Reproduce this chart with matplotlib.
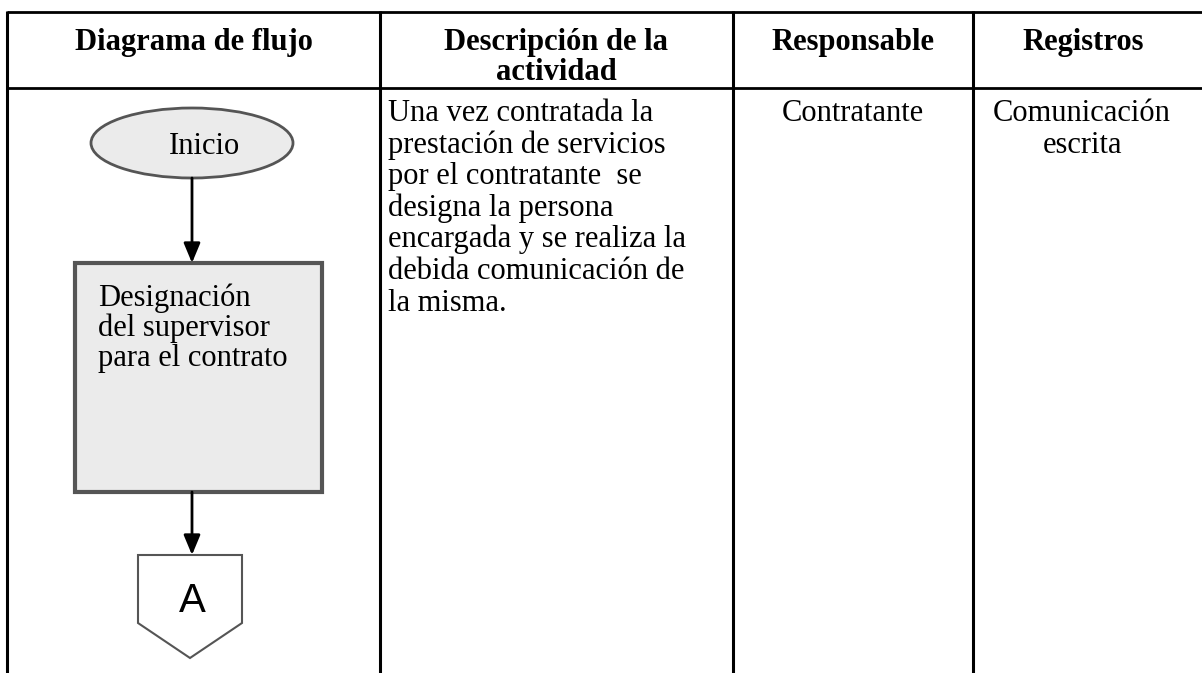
import matplotlib.pyplot as plt
from matplotlib.patches import Ellipse, Rectangle, Polygon

# table content
headers = [["Diagrama de flujo"], ["Descripción de la", "actividad"],
           ["Responsable"], ["Registros"]]
descripcion = ["Una vez contratada la", "prestación de servicios",
               "por el contratante  se", "designa la persona",
               "encargada y se realiza la", "debida comunicación de",
               "la misma."]
responsable = ["Contratante"]
registros = ["Comunicación", "escrita"]
inicio_label = "Inicio"
proceso_label = ["Designación", "del supervisor", "para el contrato"]
conector_label = "A"

# layout in pixel units
W, H = 1202, 673
col_x = [7, 380, 733, 973, 1193]
top_y, head_y = 12, 88
serif = "Liberation Serif"
fs = 22
line_h = 31.6
gray_fill = "#ebebeb"
edge = "#555555"

fig = plt.figure(figsize=(W / 100, H / 100), dpi=100)
ax = fig.add_axes([0, 0, 1, 1])
ax.set_xlim(0, W)
ax.set_ylim(H, 0)
ax.axis("off")

# grid lines
ax.plot([col_x[0], W], [top_y, top_y], color="black", lw=2, solid_capstyle="butt")
ax.plot([col_x[0], W], [head_y, head_y], color="black", lw=2, solid_capstyle="butt")
for x in col_x[:-1]:
    ax.plot([x, x], [top_y - 1, H], color="black", lw=2.2, solid_capstyle="butt")

# headers
for i, lines in enumerate(headers):
    cx = (col_x[i] + col_x[i + 1]) / 2
    for j, t in enumerate(lines):
        ax.text(cx, 50 + j * 30, t, ha="center", va="baseline",
                fontsize=fs, fontweight="bold", family=serif)

# description column
for j, t in enumerate(descripcion):
    ax.text(388, 121 + j * line_h, t, ha="left", va="baseline",
            fontsize=fs, family=serif)

cx3 = (col_x[2] + col_x[3]) / 2
for j, t in enumerate(responsable):
    ax.text(cx3, 121 + j * line_h, t, ha="center", va="baseline",
            fontsize=fs, family=serif)
cx4 = 1082
for j, t in enumerate(registros):
    ax.text(cx4, 121 + j * line_h, t, ha="center", va="baseline",
            fontsize=fs, family=serif)

# flowchart
fx = 192
ax.add_patch(Ellipse((fx, 143), 202, 70, facecolor=gray_fill,
                     edgecolor=edge, lw=2))
ax.text(fx + 13, 154, inicio_label, ha="center", va="baseline",
        fontsize=fs, family=serif)

ax.annotate("", xy=(fx, 263), xytext=(fx, 178),
            arrowprops=dict(arrowstyle="-|>,head_length=1.2,head_width=0.5",
                            color="black", lw=2, shrinkA=0, shrinkB=0))

ax.add_patch(Rectangle((75, 263), 247, 229, facecolor=gray_fill,
                       edgecolor=edge, lw=3))
for j, t in enumerate(proceso_label):
    ax.text(98, 306 + j * 30, t, ha="left", va="baseline",
            fontsize=fs, family=serif)

ax.annotate("", xy=(fx, 555), xytext=(fx, 492),
            arrowprops=dict(arrowstyle="-|>,head_length=1.2,head_width=0.5",
                            color="black", lw=2, shrinkA=0, shrinkB=0))

ax.add_patch(Polygon([(138, 555), (242, 555), (242, 623), (190, 658), (138, 623)],
                     closed=True, facecolor="white", edgecolor=edge, lw=1.5))
ax.text(fx, 601, conector_label, ha="center", va="center",
        fontsize=29, family="Liberation Sans")

fig.savefig("out.png", dpi=100)
